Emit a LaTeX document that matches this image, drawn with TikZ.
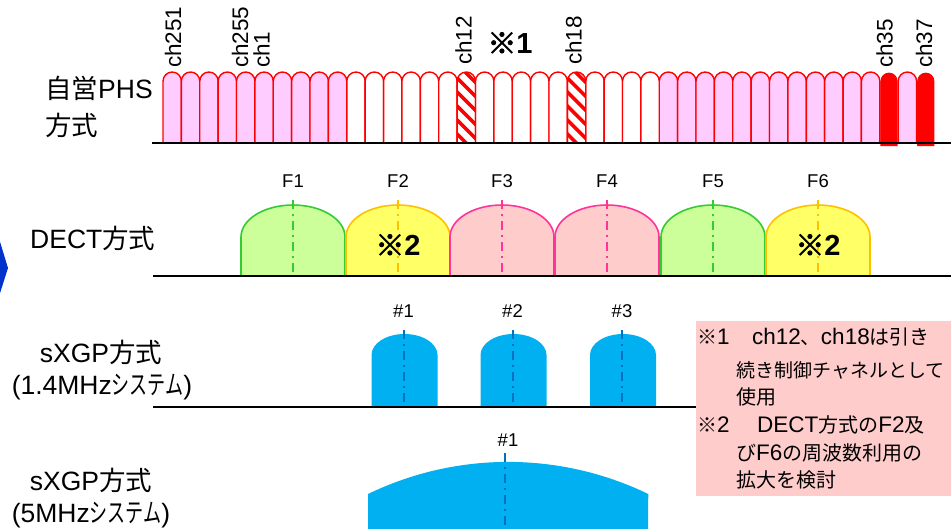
\documentclass[tikz,border=0pt]{standalone}
\usepackage{fontspec}
\setmainfont{Liberation Sans}
\newfontfamily\cjk{Noto Sans CJK JP}
\newfontfamily\cjkb[FakeBold=2.5]{Noto Sans CJK JP}
\newcommand\myfs[1]{\fontsize{#1}{#1}\selectfont}
\newcommand\narrowkana[1]{\scalebox{0.68}[1]{\cjk #1}}
\newcommand\nj[1]{{\cjk\myfs{20}#1}}
\definecolor{phsred}{HTML}{FF0000}
\definecolor{phspink}{HTML}{FFCCFF}
\definecolor{dgreen}{HTML}{33CC33}
\definecolor{dgreenf}{HTML}{CCFF99}
\definecolor{dyel}{HTML}{FFC000}
\definecolor{dyelf}{HTML}{FFFF66}
\definecolor{dpink}{HTML}{FF3399}
\definecolor{dpinkf}{HTML}{FFCCCC}
\definecolor{sblue}{HTML}{00B0F0}
\definecolor{sdark}{HTML}{0070C0}
\definecolor{notebg}{HTML}{FFCCCC}
\definecolor{chev}{HTML}{0033CC}
\begin{document}
\begin{tikzpicture}[x=1pt,y=-1pt,
  phs/.style={draw=phsred, line width=1.4pt},
  chl/.style={rotate=90, anchor=west, inner sep=0pt, font=\myfs{22.5}},
  rowlbl/.style={inner sep=0pt, font=\myfs{26.5}},
  flbl/.style={inner sep=0pt, font=\myfs{18.5}},
  notelbl/.style={inner sep=0pt, anchor=west, font=\myfs{22.5}},
  notemark/.style={inner sep=0pt, font=\myfs{29}\bfseries},
  cdash/.style={line width=2pt, dash pattern=on 9pt off 5pt on 2pt off 5pt},
  axisline/.style={line width=2pt, black}
]
\useasboundingbox (0,0) rectangle (951,528);
\fill[white] (0,0) rectangle (951,528);

% chevron at left edge
\begin{scope}
\clip (0,0) rectangle (951,528);
\fill[chev] (-6,222) -- (8,268) -- (-6,312) -- cycle;
\end{scope}

% ---------------- PHS channels ----------------
\foreach \i in {0,...,9,27,28,29,30,31,32,33,34,35,36,37,38,40}{
  \pgfmathsetmacro\xl{163+\i*18.38}
  \filldraw[phs, fill=phspink] (\xl,143) -- (\xl,81.2) arc (180:360:9.19) -- (\xl+18.38,143);
}
\foreach \i in {10,11,12,13,14,15,17,18,19,20,21,23,24,25,26}{
  \pgfmathsetmacro\xl{163+\i*18.38}
  \filldraw[phs, fill=white] (\xl,143) -- (\xl,81.2) arc (180:360:9.19) -- (\xl+18.38,143);
}
\foreach \i in {16,22}{
  \pgfmathsetmacro\xl{163+\i*18.38}
  \begin{scope}
    \clip (\xl,143) -- (\xl,81.2) arc (180:360:9.19) -- (\xl+18.38,143) -- cycle;
    \foreach \k in {0,...,7}
      \draw[phsred, line width=3.5pt] (\xl-6,58+\k*14) -- ++(32,32);
  \end{scope}
  \draw[phs] (\xl,143) -- (\xl,81.2) arc (180:360:9.19) -- (\xl+18.38,143);
}
\foreach \i in {39,41}{
  \pgfmathsetmacro\xl{163+\i*18.38}
  \fill[phsred] (\xl+0.6,146) -- (\xl+0.6,81.2) arc (180:360:8.59) -- (\xl+17.78,146) -- cycle;
}
\draw[axisline] (152,143) -- (951,143);

\node[chl] (c251) at (173,68) {ch251};
\node[chl] (c255) at (240,68) {ch255};
\node[chl] (c1) at (261.5,68) {ch1};
\node[chl] (c12) at (463.5,65) {ch12};
\node[chl] (c18) at (573.5,65) {ch18};
\node[chl] (c35) at (884.5,68) {ch35};
\node[chl] (c37) at (924,68) {ch37};
\node[notemark] (m1) at (510,43) {{\cjkb ※}1};

\node[rowlbl, anchor=west] (phsA) at (45,88) {{\cjk 自営}PHS};
\node[rowlbl, anchor=west] (phsB) at (45,125) {\cjk 方式};

% ---------------- DECT ----------------
\foreach \c/\fc/\dc [count=\n] in {293/dgreenf/dgreen, 398/dyelf/dyel, 502/dpinkf/dpink, 607/dpinkf/dpink, 713/dgreenf/dgreen, 818/dyelf/dyel}{
  \filldraw[fill=\fc, draw=\dc, line width=1.6pt] (\c-52,276) -- (\c-52,237) arc (180:360:52 and 32) -- (\c+52,276);
  \draw[\dc, cdash] (\c,200) -- (\c,276);
  \node[flbl] (F\n) at (\c,181) {F\n};
}
\draw[axisline] (153,276) -- (951,276);
\node[notemark] (m2a) at (398,245) {{\cjkb ※}2};
\node[notemark] (m2b) at (818,245) {{\cjkb ※}2};
\node[rowlbl, anchor=west] (dect) at (30,238) {DECT{\cjk 方式}};

% ---------------- sXGP 1.4MHz ----------------
\foreach \c [count=\n] in {404.5,513.5,623}{
  \fill[sblue] (\c-33,407) -- (\c-33,355) arc (180:360:33 and 21) -- (\c+33,407) -- cycle;
  \draw[sdark, cdash] (\c-1,330) -- (\c-1,407);
  \node[flbl] (S\n) at (\c-1,311) {\#\n};
}
\draw[axisline] (153,407) -- (951,407);
\node[rowlbl] (sx1a) at (101,352) {sXGP{\cjk 方式}};
\node[rowlbl] (sx1b) at (102,387) {(1.4MHz\narrowkana{システム})};

% ---------------- sXGP 5MHz ----------------
\fill[sblue] (368,530) -- (368,494) arc (244.2:295.8:322) -- (648,530) -- cycle;
\draw[sdark, cdash] (505,453) -- (505,528);
\node[flbl] (L1) at (508,440) {\#1};
\node[rowlbl] (sx2a) at (91,480) {sXGP{\cjk 方式}};
\node[rowlbl] (sx2b) at (91,515) {(5MHz\narrowkana{システム})};

% ---------------- note box ----------------
\fill[notebg] (696,321) rectangle (951,496);
\node[notelbl] (n1a) at (697,337) {\nj{※}1};
\node[notelbl] (n1b) at (752,337) {ch12\nj{、}ch18\nj{は引き}};
\node[notelbl] (n2) at (736,370) {{\cjk\myfs{19}続き制御チャネルとして}};
\node[notelbl] (n3) at (736,397) {\nj{使用}};
\node[notelbl] (n4a) at (697,425) {\nj{※}2};
\node[notelbl] (n4b) at (757,425) {DECT\nj{方式の}F2\nj{及}};
\node[notelbl] (n5) at (736,453) {\nj{び}F6\nj{の周波数利用の}};
\node[notelbl] (n6) at (736,480) {\nj{拡大を検討}};
\end{tikzpicture}
\end{document}
